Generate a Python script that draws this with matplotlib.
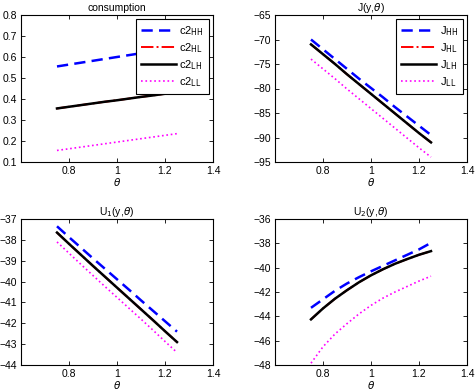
import matplotlib
matplotlib.use("Agg")
import matplotlib.pyplot as plt
from matplotlib.ticker import FuncFormatter

theta = [0.75, 0.80, 0.85, 0.90, 0.95, 1.00, 1.05, 1.10, 1.15, 1.20, 1.25]

# consumption
c2_HH = [0.555, 0.564, 0.573, 0.582, 0.591, 0.600, 0.609, 0.618, 0.627, 0.636, 0.645]
c2_HL = [0.355, 0.363, 0.371, 0.379, 0.387, 0.394, 0.402, 0.410, 0.417, 0.425, 0.432]
c2_LH = [0.355, 0.363, 0.371, 0.379, 0.387, 0.394, 0.402, 0.410, 0.417, 0.425, 0.432]
c2_LL = [0.155, 0.163, 0.171, 0.179, 0.187, 0.195, 0.203, 0.211, 0.219, 0.227, 0.235]

# J(y, theta)
J_HH = [-70.0, -72.0, -74.0, -76.0, -78.0, -79.9, -81.8, -83.8, -85.7, -87.6, -89.5]
J_HL = [-71.0, -73.0, -75.0, -77.1, -79.1, -81.1, -83.1, -85.1, -87.1, -89.1, -91.0]
J_LH = [-71.0, -73.0, -75.0, -77.1, -79.1, -81.1, -83.1, -85.1, -87.1, -89.1, -91.0]
J_LL = [-74.0, -76.0, -78.0, -80.1, -82.1, -84.1, -86.1, -88.1, -90.1, -92.1, -94.0]

# U1(y, theta)
U1_HH = [-37.35, -37.87, -38.38, -38.89, -39.39, -39.89, -40.39, -40.90, -41.40, -41.90, -42.40]
U1_HL = [-37.65, -38.19, -38.72, -39.25, -39.77, -40.29, -40.81, -41.33, -41.85, -42.38, -42.90]
U1_LH = [-37.65, -38.19, -38.72, -39.25, -39.77, -40.29, -40.81, -41.33, -41.85, -42.38, -42.90]
U1_LL = [-38.10, -38.64, -39.18, -39.71, -40.24, -40.76, -41.28, -41.80, -42.33, -42.87, -43.40]

# U2(y, theta)
U2_HH = [-43.30, -42.60, -41.90, -41.30, -40.78, -40.30, -39.85, -39.40, -38.95, -38.50, -37.96]
U2_HL = [-44.25, -43.35, -42.55, -41.85, -41.20, -40.63, -40.13, -39.68, -39.30, -38.94, -38.64]
U2_LH = [-44.25, -43.35, -42.55, -41.85, -41.20, -40.63, -40.13, -39.68, -39.30, -38.94, -38.64]
U2_LL = [-47.85, -46.50, -45.45, -44.60, -43.80, -43.10, -42.50, -42.00, -41.55, -41.10, -40.70]

W, H = 476, 390
fig = plt.figure(figsize=(W / 100, H / 100), dpi=100, facecolor="white")
plt.rcParams["font.family"] = ["Liberation Sans", "DejaVu Sans"]
plt.rcParams["mathtext.fontset"] = "dejavusans"

FS = 7.5


def make_ax(x0, y0, x1, y1):
    # pixel box (left, top, right, bottom) -> figure fraction
    return fig.add_axes([x0 / W, 1 - y1 / H, (x1 - x0) / W, (y1 - y0) / H])


def style_ax(ax, title, ylim, yticks):
    ax.set_xlim(0.6, 1.4)
    ax.set_xticks([0.8, 1.0, 1.2, 1.4])
    ax.set_xticklabels(["0.8", "1", "1.2", "1.4"])
    ax.set_ylim(*ylim)
    ax.set_yticks(yticks)
    ax.yaxis.set_major_formatter(FuncFormatter(
        lambda v, p: ("%g" % v).replace("-", "\u2212")))
    ax.tick_params(direction="in", top=True, right=True, labelsize=FS,
                   length=3, width=0.6, pad=3)
    for sp in ax.spines.values():
        sp.set_linewidth(0.8)
    ax.set_title(title, fontsize=FS, pad=3)
    ax.set_xlabel(r"$\theta$", fontsize=FS, labelpad=0)


def draw(ax, hh, hl, lh, ll):
    ax.plot(theta, hh, color="#0000ff", ls=(0, (4.5, 2.5)), lw=1.8)
    ax.plot(theta, hl, color="#ff0000", ls="-.", lw=1.4)
    ax.plot(theta, lh, color="black", ls="-", lw=1.8)
    ax.plot(theta, ll, color="#ff00ff", ls=":", lw=1.2)


def legend(ax, names):
    leg = ax.legend(names, loc="upper right", fontsize=FS + 0.5, frameon=True,
                    fancybox=False, edgecolor="black", framealpha=1,
                    handlelength=3.2, borderaxespad=0.4, labelspacing=0.3,
                    handletextpad=0.3, borderpad=0.4)
    leg.get_frame().set_linewidth(0.8)


ax1 = make_ax(21, 15, 213, 162)
draw(ax1, c2_HH, c2_HL, c2_LH, c2_LL)
style_ax(ax1, "consumption", (0.1, 0.8), [0.1, 0.2, 0.3, 0.4, 0.5, 0.6, 0.7, 0.8])
legend(ax1, [r"c2$_{\rm HH}$", r"c2$_{\rm HL}$", r"c2$_{\rm LH}$", r"c2$_{\rm LL}$"])

ax2 = make_ax(275, 15, 467, 162)
draw(ax2, J_HH, J_HL, J_LH, J_LL)
style_ax(ax2, r"J(y,$\theta$)", (-95, -65), [-95, -90, -85, -80, -75, -70, -65])
legend(ax2, [r"J$_{\rm HH}$", r"J$_{\rm HL}$", r"J$_{\rm LH}$", r"J$_{\rm LL}$"])

ax3 = make_ax(21, 219, 213, 365)
draw(ax3, U1_HH, U1_HL, U1_LH, U1_LL)
style_ax(ax3, r"U$_1$(y,$\theta$)", (-44, -37), [-44, -43, -42, -41, -40, -39, -38, -37])

ax4 = make_ax(275, 219, 467, 365)
draw(ax4, U2_HH, U2_HL, U2_LH, U2_LL)
style_ax(ax4, r"U$_2$(y,$\theta$)", (-48, -36), [-48, -46, -44, -42, -40, -38, -36])

fig.savefig("out.png", dpi=100, facecolor="white")
